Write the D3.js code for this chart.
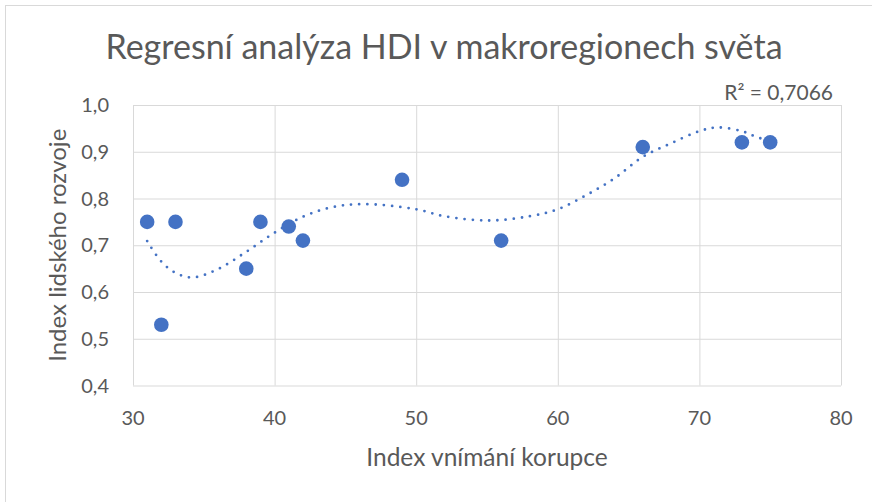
<!DOCTYPE html>
<html lang="cs">

<head>
    <meta charset="UTF-8">
    <script src="https://cdn.jsdelivr.net/npm/d3@7"></script>
    <title>Regresní analýza HDI</title>
    <style>
        body {
            margin: 0;
            background: #ffffff;
            font-family: Lato, "Open Sans", sans-serif;
        }

        .grid line {
            stroke: #d9d9d9;
            stroke-width: 1px;
        }

        .grid path {
            display: none;
        }

        .tick-label {
            fill: #595959;
            font-size: 20px;
        }
    </style>
</head>

<body>
    <script>
        /*------------------- data ----------------------------------------*/
        // index vnímání korupce (x) and HDI (y) for each macroregion
        const korupce = [31, 32, 33, 38, 39, 41, 42, 49, 56, 66, 73, 75];
        const hdi = [0.75, 0.53, 0.75, 0.65, 0.75, 0.74, 0.71, 0.84, 0.71, 0.91, 0.92, 0.92];

        // polynomial trendline
        const trendX = [31, 32, 33, 34.2, 36, 38, 40, 42, 44, 46.3, 50, 52, 55.2, 58, 60, 62, 64, 66, 68, 70, 71.3, 73, 74, 75];
        const trendY = [0.709, 0.665, 0.641, 0.631, 0.649, 0.686, 0.727, 0.761, 0.781, 0.788, 0.777, 0.762, 0.753, 0.762, 0.777, 0.807, 0.843, 0.889, 0.918, 0.944, 0.952, 0.944, 0.932, 0.922];

        const xTicks = [30, 40, 50, 60, 70, 80];
        const yTicks = [0.4, 0.5, 0.6, 0.7, 0.8, 0.9, 1.0];

        const chartTitle = "Regresní analýza HDI v makroregionech světa";
        const xTitle = "Index vnímání korupce";
        const yTitle = "Index lidského rozvoje";
        const rSquared = "R² = 0,7066";

        /*------------------- layout --------------------*/
        const W = 872, H = 502;
        const plot = { left: 133, right: 841, top: 105, bottom: 385.5 };
        const blue = "#4472c4";
        const grey = "#595959";

        const csLocale = d3.formatLocale({ decimal: ",", thousands: " ", grouping: [3], currency: ["", " Kč"] });
        const fmtY = csLocale.format(".1f");

        const svg = d3.select("body").append("svg")
            .attr("width", W)
            .attr("height", H);

        // chart area border (cropped on right and bottom)
        svg.append("rect")
            .attr("x", 5.5).attr("y", 5.5)
            .attr("width", W + 20).attr("height", H + 20)
            .attr("fill", "#fff")
            .attr("stroke", "#d9d9d9");

        /*------------------- scales --------------------*/
        const x = d3.scaleLinear().domain([30, 80]).range([plot.left, plot.right]);
        const y = d3.scaleLinear().domain([0.4, 1.0]).range([plot.bottom, plot.top]);

        /*------------------- gridlines --------------------*/
        svg.append("g")
            .attr("class", "grid")
            .attr("transform", `translate(0,${plot.bottom})`)
            .call(d3.axisBottom(x).tickValues(xTicks).tickSize(-(plot.bottom - plot.top)).tickFormat(""));

        svg.append("g")
            .attr("class", "grid")
            .attr("transform", `translate(${plot.left},0)`)
            .call(d3.axisLeft(y).tickValues(yTicks).tickSize(-(plot.right - plot.left)).tickFormat(""));

        /*------------------- tick labels --------------------*/
        svg.append("g").selectAll("text")
            .data(xTicks)
            .enter()
            .append("text")
            .attr("class", "tick-label")
            .attr("x", d => x(d))
            .attr("y", plot.bottom + 39)
            .attr("text-anchor", "middle")
            .text(d => d);

        svg.append("g").selectAll("text")
            .data(yTicks)
            .enter()
            .append("text")
            .attr("class", "tick-label")
            .attr("x", plot.left - 24)
            .attr("y", d => y(d) + 7)
            .attr("text-anchor", "end")
            .text(d => fmtY(d));

        /*------------------- trendline --------------------*/
        const trendLine = d3.line()
            .x((d, i) => x(trendX[i]))
            .y(d => y(d))
            .curve(d3.curveCatmullRom.alpha(0.5));

        svg.append("path")
            .datum(trendY)
            .attr("d", trendLine)
            .attr("fill", "none")
            .attr("stroke", blue)
            .attr("stroke-width", 2.8)
            .attr("stroke-linecap", "round")
            .attr("stroke-dasharray", "0 8.2");

        /*------------------- points --------------------*/
        svg.append("g").selectAll("circle")
            .data(hdi)
            .enter()
            .append("circle")
            .attr("cx", (d, i) => x(korupce[i]))
            .attr("cy", d => y(d))
            .attr("r", 7.3)
            .attr("fill", blue);

        /*------------------- texts --------------------*/
        svg.append("text")
            .attr("x", 444)
            .attr("y", 59)
            .attr("text-anchor", "middle")
            .attr("fill", grey)
            .style("font-size", "34px")
            .text(chartTitle);

        svg.append("text")
            .attr("x", 833)
            .attr("y", 100)
            .attr("text-anchor", "end")
            .attr("fill", grey)
            .style("font-size", "21px")
            .text(rSquared);

        svg.append("text")
            .attr("x", (plot.left + plot.right) / 2)
            .attr("y", 466)
            .attr("text-anchor", "middle")
            .attr("fill", grey)
            .style("font-size", "24.5px")
            .text(xTitle);

        svg.append("text")
            .attr("transform", `translate(66,${(plot.top + plot.bottom) / 2}) rotate(-90)`)
            .attr("text-anchor", "middle")
            .attr("fill", grey)
            .style("font-size", "24px")
            .text(yTitle);
    </script>
</body>

</html>
